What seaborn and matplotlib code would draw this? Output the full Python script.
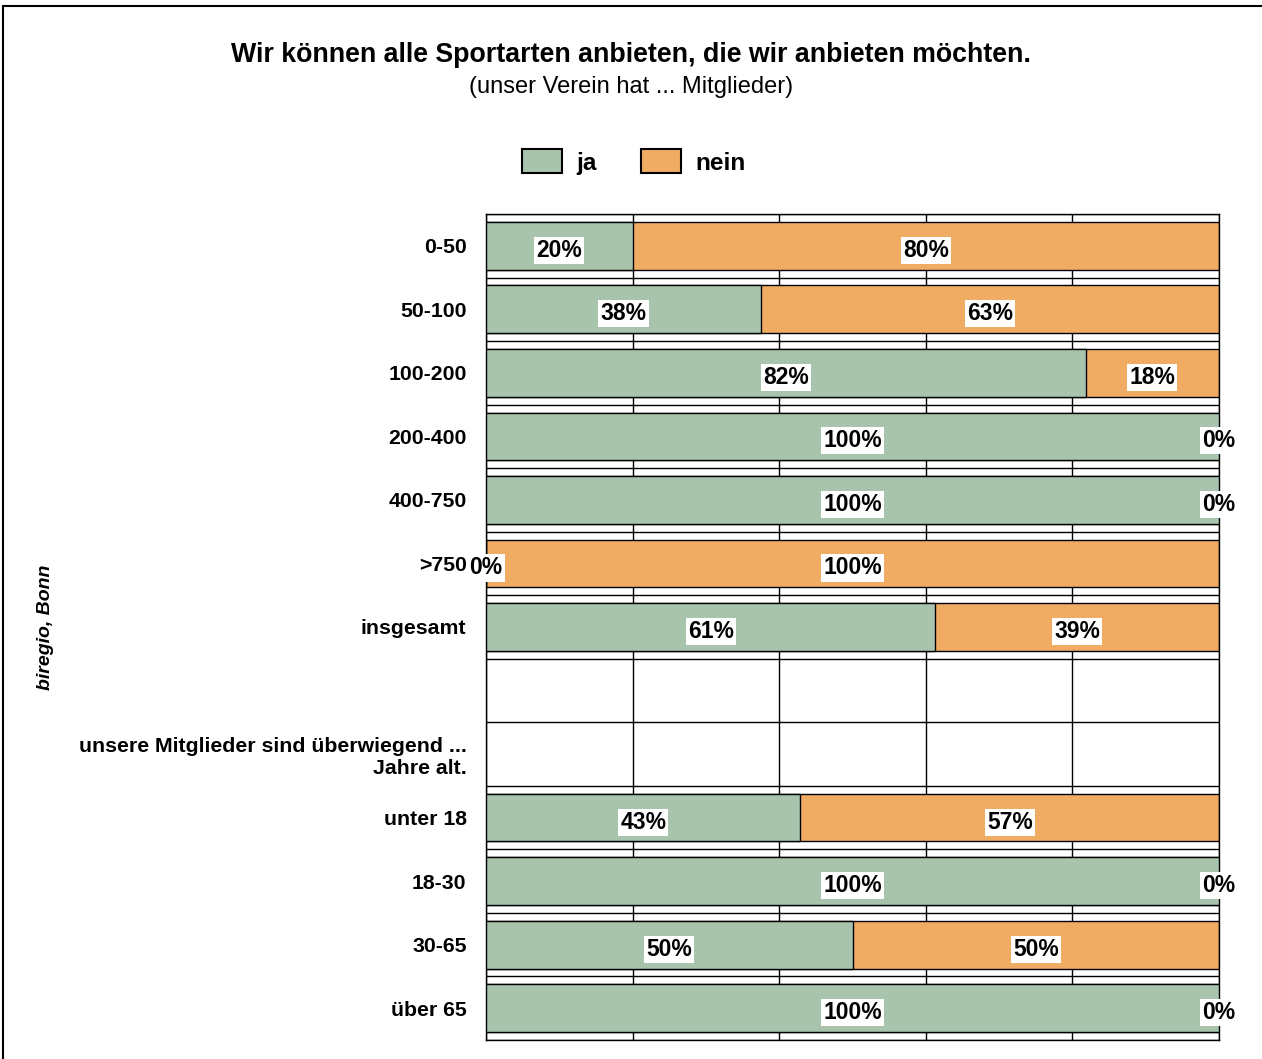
import math
import matplotlib
matplotlib.use("Agg")
import matplotlib.pyplot as plt
from matplotlib.patches import Patch, Rectangle
from matplotlib import transforms
import numpy as np
import pandas as pd
import seaborn as sns

# Zeilen des Diagramms (leere Zeilen bleiben ohne Balken)
reihen = ["0-50", "50-100", "100-200", "200-400", "400-750", ">750", "insgesamt",
          "", "unsere Mitglieder sind überwiegend ...\nJahre alt.",
          "unter 18", "18-30", "30-65", "über 65"]
gruppen = ["0-50", "50-100", "100-200", "200-400", "400-750", ">750", "insgesamt",
           "unter 18", "18-30", "30-65", "über 65"]
ja = [20, 37.5, 81.8, 100, 100, 0, 61.3, 42.9, 100, 50, 100]
nein = [80, 62.5, 18.2, 0, 0, 100, 38.7, 57.1, 0, 50, 0]

titel = "Wir können alle Sportarten anbieten, die wir anbieten möchten."
untertitel = "(unser Verein hat ... Mitglieder)"
quelle = "biregio, Bonn"

farbe_ja = "#A9C4AD"
farbe_nein = "#F1AC64"

df = pd.DataFrame({"gruppe": gruppen, "ja": ja, "nein": nein})
df["gesamt"] = df["ja"] + df["nein"]

sns.set_theme(style="white")
plt.rcParams["font.family"] = ["Liberation Sans", "DejaVu Sans"]
plt.rcParams["text.color"] = "black"
plt.rcParams["ytick.color"] = "black"

fig = plt.figure(figsize=(12.62, 10.59), dpi=100)
ax = fig.add_axes([486 / 1262, 1 - 1040 / 1059, (1219 - 486) / 1262, (1040 - 214) / 1059])

# gestapelte Balken: erst gesamt (nein), dann ja darüber
sns.barplot(data=df, x="gesamt", y="gruppe", order=reihen, color=farbe_nein,
            saturation=1, edgecolor="black", linewidth=1, width=0.75,
            errorbar=None, ax=ax, zorder=2)
sns.barplot(data=df, x="ja", y="gruppe", order=reihen, color=farbe_ja,
            saturation=1, edgecolor="black", linewidth=1, width=0.75,
            errorbar=None, ax=ax, zorder=3)

# Gitter
ax.set_xlim(0, 100)
ax.set_xticks(range(0, 101, 20))
ax.set_xticklabels([])
ax.set_yticks(np.arange(-0.5, len(reihen), 1), minor=True)
ax.set_axisbelow(True)
ax.xaxis.grid(True, color="black", linewidth=1)
ax.yaxis.grid(True, which="minor", color="black", linewidth=1)
ax.yaxis.grid(False, which="major")
ax.tick_params(axis="both", which="both", length=0)
ax.tick_params(axis="y", pad=14, labelcolor="black")
for lab in ax.get_yticklabels():
    lab.set_fontweight("bold")
    lab.set_fontsize(15.3)
ax.set_xlabel("")
ax.set_ylabel("")
for s in ax.spines.values():
    s.set_visible(True)
    s.set_color("black")
    s.set_linewidth(1)

# Werte beschriften (etwas unter die Balkenmitte, wie im Original)
def fmt(v):
    return f"{math.floor(v + 0.5)}%"

versatz = transforms.offset_copy(ax.transData, fig=fig, y=-2, units="dots")
box = dict(facecolor="white", edgecolor="none", pad=1.5)
for _, r in df.iterrows():
    y = reihen.index(r["gruppe"])
    ax.text(r["ja"] / 2, y, fmt(r["ja"]), ha="center", va="center_baseline",
            fontsize=16.5, fontweight="bold", bbox=box, zorder=5, clip_on=False,
            transform=versatz)
    ax.text(r["ja"] + r["nein"] / 2, y, fmt(r["nein"]), ha="center", va="center_baseline",
            fontsize=16.5, fontweight="bold", bbox=box, zorder=5, clip_on=False,
            transform=versatz)

# Titel, Legende, Quelle
fig.text(0.5, 1 - 55 / 1059, titel, ha="center", va="center", fontsize=19.3, fontweight="bold")
fig.text(0.5, 1 - 87 / 1059, untertitel, ha="center", va="center", fontsize=17)

handles = [Patch(facecolor=farbe_ja, edgecolor="black", linewidth=1.5, label="ja"),
           Patch(facecolor=farbe_nein, edgecolor="black", linewidth=1.5, label="nein")]
leg = fig.legend(handles=handles, loc="center", bbox_to_anchor=(634 / 1262, 1 - 162 / 1059),
                 ncol=2, frameon=False, handlelength=1.65, handleheight=1.15,
                 handletextpad=0.6, columnspacing=1.8,
                 prop={"weight": "bold", "size": 17.5})

fig.text(45 / 1262, 1 - 627 / 1059, quelle, rotation=90, ha="center", va="center",
         fontsize=14, fontweight="bold", fontstyle="italic")

fig.patches.append(Rectangle((3 / 1262, -0.01), 1.0, 1 - 6 / 1059 + 0.01,
                             transform=fig.transFigure, fill=False,
                             edgecolor="black", linewidth=1.5))

fig.savefig("out.png", dpi=100)
plt.close(fig)
